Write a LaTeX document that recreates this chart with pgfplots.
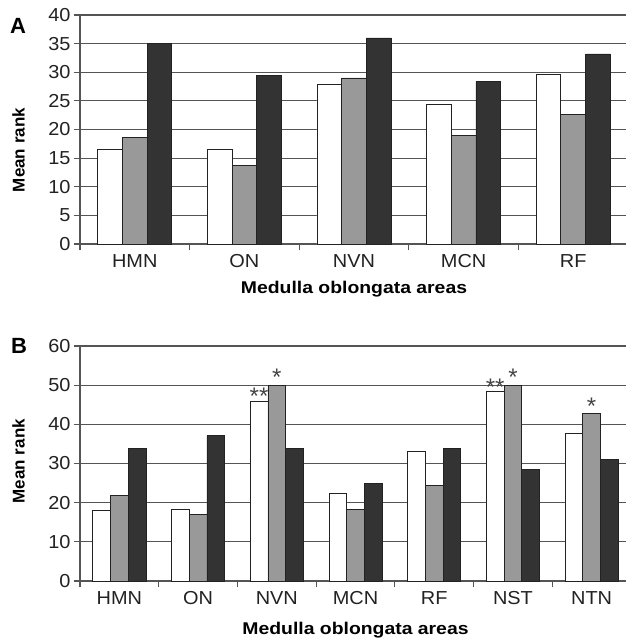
\documentclass[border=0pt]{standalone}
\usepackage{fontspec}
\setmainfont{Liberation Sans}
\newfontfamily\tickfont[FakeStretch=1.06]{Liberation Sans}
\newfontfamily\labfont[FakeStretch=1.14]{Liberation Sans}
\usepackage{pgfplots}
\pgfplotsset{compat=1.18}
\usepackage{pgfplotstable}
\definecolor{gridc}{HTML}{555555}
\definecolor{barg}{HTML}{999999}
\definecolor{bark}{HTML}{333333}
\definecolor{edge}{HTML}{222222}
\definecolor{txt}{HTML}{222222}
\definecolor{starc}{HTML}{444444}

\pgfplotstableread{
x w g k
0 16.6 18.6 35.0
1 16.6 13.7 29.5
2 27.8 29.0 36.0
3 24.3 19.0 28.4
4 29.6 22.7 33.2
}\dataA

\pgfplotstableread{
x w g k wm gm
0 18.1 21.8 33.9 {} {}
1 18.3 17.1 37.1 {} {}
2 45.9 50.0 33.9 ** *
3 22.4 18.3 25.0 {} {}
4 33.0 24.4 33.9 {} {}
5 48.3 50.0 28.5 ** *
6 37.6 42.7 31.0 {} *
}\dataB

\pgfplotsset{
  panel/.style={
    scale only axis,
    clip mode=individual,
    ybar=0pt,
    axis x line*=bottom, axis y line*=left,
    axis line style={-, gridc, line width=1.2pt},
    ymajorgrids, grid style={gridc, line width=1.2pt},
    ymin=0,
    tick align=outside,
    major tick length=6pt, minor tick length=6pt,
    major x tick style={draw=none},
    minor x tick style={gridc, line width=1.2pt},
    y tick style={gridc, line width=1.2pt},
    ticklabel style={font=\tickfont\fontsize{18.8}{21}\selectfont, text=txt},
    xticklabel style={text height=13.5pt, text depth=0pt},
    /pgf/number format/assume math mode=true,
    xlabel style={font=\labfont\bfseries\fontsize{17}{19}\selectfont, text=black},
    ylabel style={font=\bfseries\fontsize{17}{19}\selectfont, text=black},
    xlabel={Medulla oblongata areas},
    ylabel={Mean rank},
    every axis plot/.append style={draw=edge, line width=0.8pt},
  },
  starstyle/.style={nodes near coords, point meta=explicit symbolic,
    every node near coord/.append style={font=\fontsize{24}{24}\selectfont, text=starc, yshift=#1}},
}

\begin{document}
\begin{tikzpicture}
\begin{axis}[panel,
  at={(80pt,-244pt)}, anchor=south west,
  width=548pt, height=229pt,
  xmin=-0.5, xmax=4.5, ymax=40,
  ytick={0,5,...,40},
  xtick={0,...,4}, xticklabels={HMN,ON,NVN,MCN,RF},
  minor xtick={-0.5,0.5,...,4.5},
  bar width=24.7pt,
  ylabel style={at={(axis description cs:-0.0942,0.41)}, anchor=south},
  xlabel style={at={(axis description cs:0.5,0)}, anchor=base, yshift=-49.7pt},
]
\addplot[fill=white] table[x=x,y=w] {\dataA};
\addplot[fill=barg] table[x=x,y=g] {\dataA};
\addplot[fill=bark] table[x=x,y=k] {\dataA};
\node[anchor=base west, inner sep=0pt, font=\bfseries\fontsize{22}{24}\selectfont] at (axis description cs:-0.1277,0.921) {A};
\end{axis}

\begin{axis}[panel,
  at={(80pt,-581pt)}, anchor=south west,
  width=551pt, height=235pt,
  xmin=-0.5, xmax=6.5, ymax=60,
  ytick={0,10,...,60},
  xtick={0,...,6}, xticklabels={HMN,ON,NVN,MCN,RF,NST,NTN},
  minor xtick={-0.5,0.5,...,6.5},
  bar width=17.7pt,
  ylabel style={at={(axis description cs:-0.0936,0.51)}, anchor=south},
  xlabel style={at={(axis description cs:0.5,0)}, anchor=base, yshift=-53.3pt},
]
\addplot[fill=white, starstyle=-7pt] table[x=x,y=w,meta=wm] {\dataB};
\addplot[fill=barg, starstyle=-4pt] table[x=x,y=g,meta=gm] {\dataB};
\addplot[fill=bark] table[x=x,y=k] {\dataB};
\node[anchor=base west, inner sep=0pt, font=\bfseries\fontsize{22}{24}\selectfont] at (axis description cs:-0.1252,0.966) {B};
\end{axis}
\pgfresetboundingbox
\path[use as bounding box] (0pt,0pt) rectangle (625pt,-639pt);
\end{tikzpicture}
\end{document}
